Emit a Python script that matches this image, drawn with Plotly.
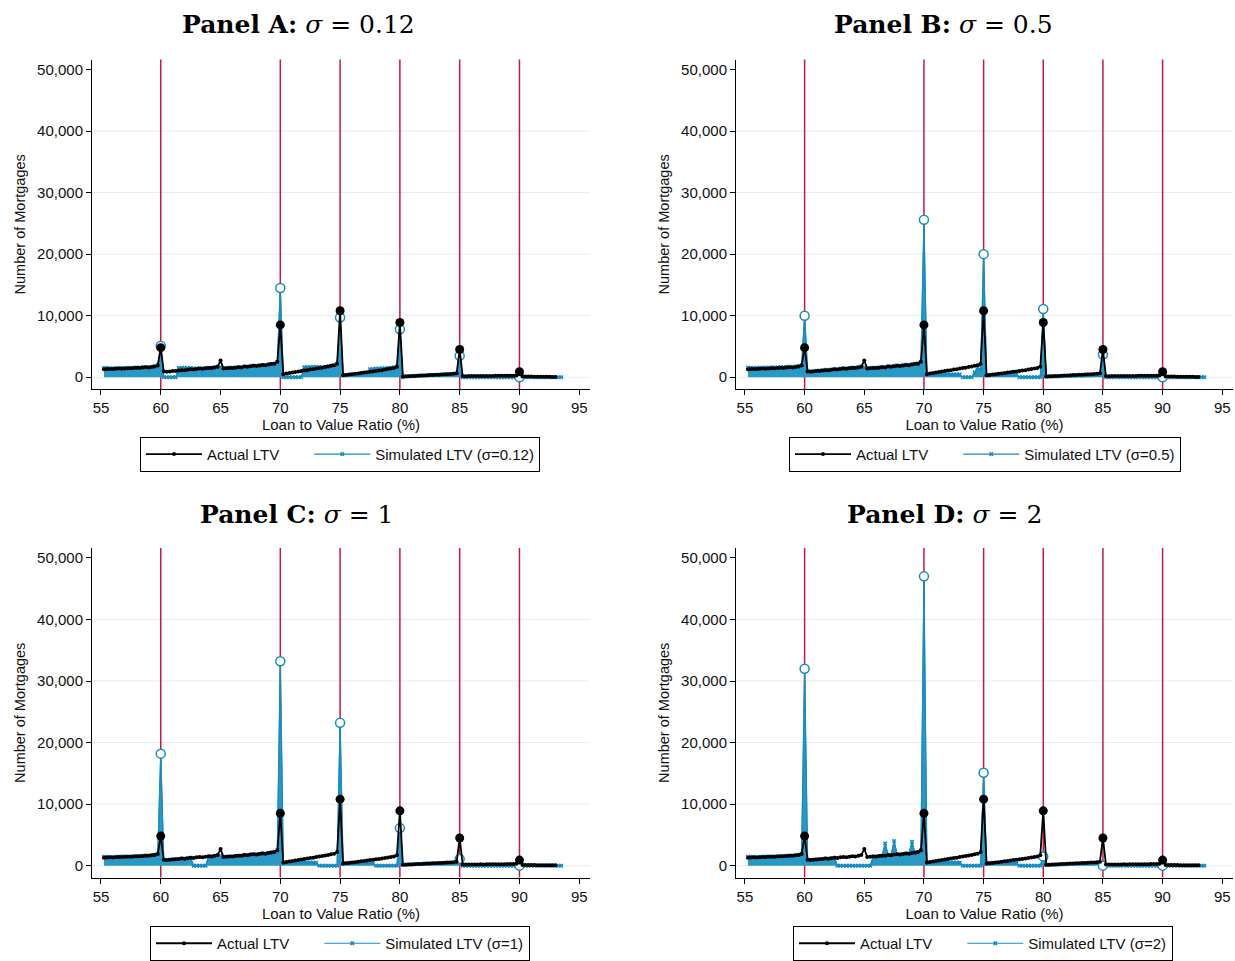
import plotly.graph_objects as go

# LTV bins (percent), shared by every series
LTV_BINS = [
    55.25, 55.5, 55.75, 56.0, 56.25, 56.5, 56.75, 57.0, 57.25, 57.5, 57.75, 58.0, 58.25, 58.5, 58.75, 59.0, 59.25, 59.5, 59.75, 60.0,
    60.25, 60.5, 60.75, 61.0, 61.25, 61.5, 61.75, 62.0, 62.25, 62.5, 62.75, 63.0, 63.25, 63.5, 63.75, 64.0, 64.25, 64.5, 64.75, 65.0,
    65.25, 65.5, 65.75, 66.0, 66.25, 66.5, 66.75, 67.0, 67.25, 67.5, 67.75, 68.0, 68.25, 68.5, 68.75, 69.0, 69.25, 69.5, 69.75, 70.0,
    70.25, 70.5, 70.75, 71.0, 71.25, 71.5, 71.75, 72.0, 72.25, 72.5, 72.75, 73.0, 73.25, 73.5, 73.75, 74.0, 74.25, 74.5, 74.75, 75.0,
    75.25, 75.5, 75.75, 76.0, 76.25, 76.5, 76.75, 77.0, 77.25, 77.5, 77.75, 78.0, 78.25, 78.5, 78.75, 79.0, 79.25, 79.5, 79.75, 80.0,
    80.25, 80.5, 80.75, 81.0, 81.25, 81.5, 81.75, 82.0, 82.25, 82.5, 82.75, 83.0, 83.25, 83.5, 83.75, 84.0, 84.25, 84.5, 84.75, 85.0,
    85.25, 85.5, 85.75, 86.0, 86.25, 86.5, 86.75, 87.0, 87.25, 87.5, 87.75, 88.0, 88.25, 88.5, 88.75, 89.0, 89.25, 89.5, 89.75, 90.0,
    90.25, 90.5, 90.75, 91.0, 91.25, 91.5, 91.75, 92.0, 92.25, 92.5, 92.75, 93.0, 93.25, 93.5,
]

# Observed number of mortgages per LTV bin
ACTUAL = [
    1300, 1330, 1350, 1320, 1380, 1400, 1390, 1430, 1460, 1440, 1500, 1530, 1510, 1580, 1620, 1600, 1680, 1750, 1900, 4800,
    950, 900, 940, 1000, 1020, 1080, 1150, 1130, 1220, 1280, 1250, 1350, 1400, 1380, 1450, 1520, 1500, 1600, 1720, 2700,
    1400, 1450, 1500, 1480, 1550, 1620, 1600, 1750, 1700, 1800, 1850, 1820, 1900, 1980, 1950, 2050, 2150, 2200, 2500, 8500,
    500, 600, 680, 750, 850, 920, 1000, 1080, 1150, 1250, 1300, 1400, 1480, 1550, 1650, 1750, 1850, 1950, 2200, 10800,
    320, 380, 450, 500, 560, 620, 700, 750, 820, 900, 950, 1020, 1100, 1150, 1250, 1320, 1400, 1500, 1700, 8900,
    130, 150, 170, 200, 220, 250, 270, 300, 330, 350, 380, 400, 420, 450, 480, 500, 520, 560, 650, 4500,
    180, 170, 180, 190, 190, 200, 210, 200, 210, 220, 220, 230, 230, 240, 240, 250, 250, 260, 300, 900,
    120, 110, 100, 100, 90, 80, 80, 70, 60, 60, 50, 50, None, None,
]

# Simulated LTV distributions for each sigma
SIM_012 = [
    1500, 1500, 1450, 1450, 1500, 1480, 1500, 1500, 1530, 1500, 1550, 1580, 1560, 1620, 1650, 1640, 1700, 1780, 1950, 5100,
    0, 0, 0, 0, 0, 1500, 1500, 1520, 1500, 1480, 1450, 1420, 1450, 1420, 1480, 1530, 1520, 1600, 1700, 1650,
    1450, 1500, 1550, 1520, 1580, 1650, 1620, 1750, 1720, 1800, 1850, 1850, 1900, 1980, 1960, 2050, 2150, 2200, 2450, 14500,
    0, 0, 0, 0, 0, 0, 0, 1600, 1650, 1650, 1700, 1700, 1650, 1650, 1700, 1780, 1870, 1960, 2200, 9700,
    300, 350, 400, 450, 500, 550, 600, 650, 700, 1300, 1350, 1400, 1400, 1450, 1450, 1500, 1550, 1600, 1700, 7800,
    0, 100, 150, 180, 200, 230, 250, 280, 300, 330, 360, 380, 400, 430, 460, 480, 500, 540, 620, 3500,
    0, 0, 0, 0, 0, 0, 0, 0, 0, 0, 0, 0, 0, 0, 0, 0, 0, 0, 0, 0,
    0, 0, 0, 0, 0, 0, 0, 0, 0, 0, 0, 0, 0, 0,
]
SIM_05 = [
    1550, 1550, 1500, 1520, 1550, 1540, 1560, 1580, 1600, 1580, 1620, 1650, 1640, 1700, 1720, 1700, 1760, 1820, 1950, 10000,
    1000, 950, 980, 1050, 1080, 1130, 1200, 1180, 1270, 1330, 1300, 1400, 1450, 1430, 1500, 1570, 1550, 1650, 1750, 1600,
    1450, 1500, 1550, 1530, 1600, 1670, 1650, 1800, 1750, 1850, 1900, 1870, 1950, 2030, 2000, 2100, 2200, 2250, 2500, 25600,
    400, 420, 400, 420, 450, 430, 450, 470, 450, 460, 480, 450, 0, 0, 0, 0, 800, 1600, 1200, 20000,
    300, 320, 350, 350, 380, 400, 380, 400, 420, 400, 380, 0, 0, 0, 0, 0, 0, 0, 0, 11100,
    100, 100, 120, 130, 150, 160, 170, 190, 200, 220, 230, 250, 260, 280, 300, 310, 330, 350, 400, 3700,
    0, 0, 0, 0, 0, 0, 0, 0, 0, 0, 0, 0, 0, 0, 0, 0, 0, 0, 0, 0,
    0, 0, 0, 0, 0, 0, 0, 0, 0, 0, 0, 0, 0, 0,
]
SIM_1 = [
    1450, 1450, 1400, 1420, 1450, 1450, 1480, 1480, 1500, 1500, 1530, 1560, 1550, 1600, 1640, 1620, 1700, 1760, 1900, 18200,
    950, 900, 940, 1000, 1020, 1080, 1150, 1130, 1220, 1280, 0, 0, 0, 0, 0, 1450, 1520, 1500, 1620, 1600,
    1400, 1450, 1500, 1480, 1550, 1620, 1600, 1750, 1700, 1800, 1850, 1820, 1900, 1980, 1950, 2050, 2150, 2200, 2450, 33200,
    450, 480, 500, 480, 500, 520, 500, 520, 500, 520, 500, 480, 0, 0, 0, 0, 0, 0, 0, 23200,
    400, 420, 450, 430, 450, 450, 430, 450, 450, 430, 400, 0, 0, 0, 0, 0, 0, 0, 0, 6100,
    150, 180, 200, 220, 250, 260, 280, 300, 320, 340, 360, 380, 400, 420, 440, 460, 480, 500, 550, 1100,
    0, 0, 0, 0, 0, 0, 0, 0, 0, 0, 0, 0, 0, 0, 0, 0, 0, 0, 0, 0,
    0, 0, 0, 0, 0, 0, 0, 0, 0, 0, 0, 0, 0, 0,
]
SIM_2 = [
    1450, 1450, 1400, 1420, 1450, 1450, 1480, 1480, 1500, 1500, 1530, 1560, 1550, 1600, 1640, 1620, 1700, 1760, 1900, 32000,
    950, 900, 940, 1000, 1020, 1080, 1150, 1130, 1220, 1280, 0, 0, 0, 0, 0, 0, 0, 0, 0, 0,
    0, 0, 1500, 1480, 1550, 1620, 3600, 1750, 1750, 4000, 1850, 1820, 1900, 1980, 1950, 3900, 2000, 2200, 2400, 47000,
    450, 480, 500, 480, 500, 520, 500, 520, 500, 520, 500, 480, 0, 0, 0, 0, 0, 0, 0, 15100,
    400, 420, 450, 430, 450, 450, 430, 450, 450, 430, 400, 0, 0, 0, 0, 0, 0, 0, 0, 1500,
    100, 120, 140, 160, 180, 200, 220, 240, 260, 280, 300, 320, 340, 360, 380, 400, 420, 440, 480, 0,
    0, 0, 0, 0, 0, 0, 0, 0, 0, 0, 0, 0, 0, 0, 0, 0, 0, 0, 0, 0,
    0, 0, 0, 0, 0, 0, 0, 0, 0, 0, 0, 0, 0, 0,
]

PANEL_LETTERS = ["A", "B", "C", "D"]
SIGMA_LABELS = ["0.12", "0.5", "1", "2"]
SIMULATED = [SIM_012, SIM_05, SIM_1, SIM_2]

# LTV notches marked with vertical lines and large markers
THRESHOLDS = [60, 70, 75, 80, 85, 90]
X_TICKS = [55, 60, 65, 70, 75, 80, 85, 90, 95]
Y_TICKS = [0, 10000, 20000, 30000, 40000, 50000]
GRID_VALUES = [0, 10000, 20000, 30000, 40000]

BLUE_LINE = "rgb(22,140,196)"
BLUE_FILL = "rgb(40,152,198)"
RED = "#c8174a"
GRID = "#e4edef"
W, H = 1235, 961
LEGEND_PAD = "\u00a0" * 6  # extra room between the two legend entries

# pixel boxes of each panel: (left, right, top, bottom)
PANEL_BOX = [(92, 590, 60, 392), (736, 1233, 60, 392), (92, 590, 552, 884), (736, 1233, 552, 884)]
TITLE_POS = [(298, 25), (943, 25), (297, 518), (944, 518)]
LEGEND_POS = [(340, 440), (985, 440), (340, 933), (983, 933)]

X_RANGE = [54.25, 95.9]
Y_RANGE = [-1935, 51613]

fig = go.Figure()
shapes = []
annotations = []

for k in range(4):
    sfx = "" if k == 0 else str(k + 1)
    xa, ya = "x" + sfx, "y" + sfx
    leg = "legend" + sfx
    sim = SIMULATED[k]

    # simulated distribution, filled to zero
    fig.add_trace(go.Scatter(
        x=LTV_BINS, y=sim, mode="lines", fill="tozeroy", fillcolor=BLUE_FILL,
        line=dict(color=BLUE_LINE, width=1), showlegend=False, hoverinfo="skip",
        xaxis=xa, yaxis=ya))
    fig.add_trace(go.Scatter(
        x=LTV_BINS, y=sim, mode="lines+markers", name=f"Simulated LTV (σ={SIGMA_LABELS[k]})",
        line=dict(color=BLUE_LINE, width=1.2),
        marker=dict(symbol="x", size=4, color=BLUE_LINE),
        legend=leg, legendrank=2, xaxis=xa, yaxis=ya))
    idx = [i for i, v in enumerate(LTV_BINS) if v in THRESHOLDS]
    fig.add_trace(go.Scatter(
        x=[LTV_BINS[i] for i in idx], y=[sim[i] for i in idx], mode="markers",
        marker=dict(symbol="circle", size=9, color="white", line=dict(color=BLUE_LINE, width=1.5)),
        showlegend=False, hoverinfo="skip", xaxis=xa, yaxis=ya))

    # observed distribution
    fig.add_trace(go.Scatter(
        x=LTV_BINS, y=ACTUAL, mode="lines+markers", name="Actual LTV" + LEGEND_PAD,
        line=dict(color="black", width=1.8), marker=dict(symbol="circle", size=4, color="black"),
        legend=leg, legendrank=1, xaxis=xa, yaxis=ya))
    fig.add_trace(go.Scatter(
        x=[LTV_BINS[i] for i in idx], y=[ACTUAL[i] for i in idx], mode="markers",
        marker=dict(symbol="circle", size=9, color="black"),
        showlegend=False, hoverinfo="skip", xaxis=xa, yaxis=ya))

    l, r, t, b = PANEL_BOX[k]
    axis_font = dict(family="Liberation Sans", size=15, color="#111111")
    fig.update_layout({
        "xaxis" + sfx: dict(
            domain=[l / W, r / W], range=X_RANGE, anchor=ya, tickvals=X_TICKS,
            ticks="outside", ticklen=5, tickcolor="black", tickwidth=1,
            showline=True, linecolor="black", linewidth=1, showgrid=False, zeroline=False,
            tickfont=axis_font,
            title=dict(text="Loan to Value Ratio (%)", font=axis_font, standoff=0)),
        "yaxis" + sfx: dict(
            domain=[1 - b / H, 1 - t / H], range=Y_RANGE, anchor=xa, tickvals=Y_TICKS,
            tickformat=",", ticks="outside", ticklen=5, tickcolor="black", tickwidth=1,
            showline=True, linecolor="black", linewidth=1, showgrid=False, zeroline=False,
            tickfont=axis_font,
            title=dict(text="Number of Mortgages", font=dict(family="Liberation Sans", size=14.5, color="#111111"), standoff=8)),
        leg: dict(
            orientation="h", x=LEGEND_POS[k][0] / W, xanchor="center",
            y=1 - LEGEND_POS[k][1] / H, yanchor="top",
            bordercolor="black", borderwidth=1, bgcolor="white",
            font=dict(family="Liberation Sans", size=15, color="#111111"),
            itemwidth=56, traceorder="normal"),
    })

    for g in GRID_VALUES:
        shapes.append(dict(type="line", xref=xa + " domain", x0=0, x1=1, yref=ya, y0=g, y1=g,
                           line=dict(color=GRID, width=1), layer="below"))
    for th in THRESHOLDS:
        shapes.append(dict(type="line", xref=xa, x0=th, x1=th, yref=ya + " domain", y0=0, y1=1,
                           line=dict(color=RED, width=1.5), layer="below"))

    tx, ty = TITLE_POS[k]
    annotations.append(dict(
        text=f"<b>Panel {PANEL_LETTERS[k]}:</b> <i>σ</i> = {SIGMA_LABELS[k]}",
        xref="paper", yref="paper", x=tx / W, y=1 - ty / H, xanchor="center", yanchor="middle",
        showarrow=False, font=dict(family="DejaVu Serif", size=25, color="black")))

fig.update_layout(
    width=W, height=H, margin=dict(l=0, r=0, t=0, b=0),
    plot_bgcolor="white", paper_bgcolor="white",
    font=dict(family="Liberation Sans", color="#111111"),
    shapes=shapes, annotations=annotations, hovermode=False,
)

fig.write_html("out.html")
